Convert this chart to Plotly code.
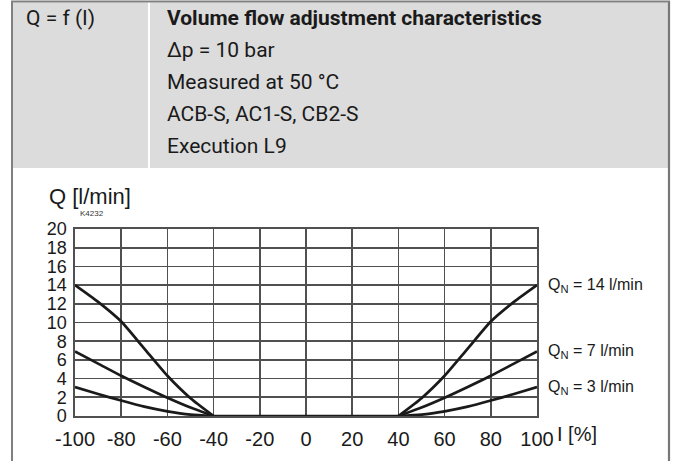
import plotly.graph_objects as go

W, H = 676, 461

# Data
current_left = [-100, -90, -80, -70, -60, -50, -40]
current_right = [40, 50, 60, 70, 80, 90, 100]
q14_left = [14.0, 12.2, 10.1, 7.2, 4.3, 1.9, 0]
q7_left = [6.9, 5.6, 4.3, 3.1, 1.95, 0.9, 0]
q3_left = [3.1, 2.35, 1.65, 1.0, 0.5, 0.15, 0]
q14_right = [0, 1.9, 4.3, 7.2, 10.1, 12.2, 14.0]
q7_right = [0, 0.9, 1.95, 3.1, 4.3, 5.6, 6.9]
q3_right = [0, 0.15, 0.5, 1.0, 1.65, 2.35, 3.1]
series_labels = ["Q<sub>N</sub> = 14 l/min", "Q<sub>N</sub> = 7 l/min", "Q<sub>N</sub> = 3 l/min"]
x_ticks = [-100, -80, -60, -40, -20, 0, 20, 40, 60, 80, 100]
y_ticks = [0, 2, 4, 6, 8, 10, 12, 14, 16, 18, 20]

header_left = "Q = f (I)"
header_title = "Volume flow adjustment characteristics"
header_lines = ["Δp = 10 bar", "Measured at 50 °C", "ACB-S, AC1-S, CB2-S", "Execution L9"]


def px(x):
    return x / W


def py(y):
    return 1 - y / H


fig = go.Figure()
curve_line = dict(color="#1a1a1a", width=2.7, shape="spline", smoothing=0.6)
for ql, qr in ((q14_left, q14_right), (q7_left, q7_right), (q3_left, q3_right)):
    fig.add_trace(go.Scatter(x=current_left, y=ql, mode="lines", line=curve_line,
                             hoverinfo="skip", showlegend=False))
    fig.add_trace(go.Scatter(x=current_right, y=qr, mode="lines", line=curve_line,
                             hoverinfo="skip", showlegend=False))
# flat (zero-flow) section between the two branches
fig.add_trace(go.Scatter(x=[current_left[-1], current_right[0]], y=[q14_left[-1], q14_right[0]],
                         mode="lines", line=dict(color="#1a1a1a", width=2.7),
                         hoverinfo="skip", showlegend=False))

narrow = "Roboto, Liberation Sans Narrow, sans-serif"
arial = "Liberation Sans, Arial, sans-serif"

shapes = [
    dict(type="rect", xref="paper", yref="paper", x0=px(13), x1=px(148), y0=py(168), y1=py(2.5),
         fillcolor="#dcdcdc", line=dict(width=0), layer="below"),
    dict(type="rect", xref="paper", yref="paper", x0=px(150), x1=px(668), y0=py(168), y1=py(2.5),
         fillcolor="#dcdcdc", line=dict(width=0), layer="below"),
    dict(type="line", xref="paper", yref="paper", x0=px(12), x1=px(12), y0=0, y1=py(1),
         line=dict(color="#808080", width=2)),
    dict(type="line", xref="paper", yref="paper", x0=px(669), x1=px(669), y0=0, y1=py(1),
         line=dict(color="#777777", width=2.2)),
    dict(type="line", xref="paper", yref="paper", x0=px(11), x1=px(670), y0=py(1.5), y1=py(1.5),
         line=dict(color="#808080", width=1.8)),
]

annotations = [
    dict(text=header_left, x=px(24), y=py(18), xref="paper", yref="paper", xanchor="left",
         yanchor="middle", showarrow=False, font=dict(family=narrow, size=21, color="#1a1a1a")),
    dict(text="<b>" + header_title + "</b>", x=px(165), y=py(18), xref="paper", yref="paper",
         xanchor="left", yanchor="middle", showarrow=False,
         font=dict(family=narrow, size=21, color="#1a1a1a")),
]
for i, t in enumerate(header_lines):
    annotations.append(dict(text=t, x=px(165), y=py(50 + 32 * i), xref="paper", yref="paper",
                            xanchor="left", yanchor="middle", showarrow=False,
                            font=dict(family=narrow, size=21, color="#1a1a1a")))

annotations += [
    dict(text="Q [l/min]", x=px(47), y=py(197), xref="paper", yref="paper", xanchor="left",
         yanchor="middle", showarrow=False, font=dict(family=arial, size=22, color="#1a1a1a")),
    dict(text="K4232", x=px(78), y=py(213), xref="paper", yref="paper", xanchor="left",
         yanchor="middle", showarrow=False, font=dict(family=arial, size=8, color="#333333")),
    dict(text="I [%]", x=px(555), y=py(434), xref="paper", yref="paper", xanchor="left",
         yanchor="middle", showarrow=False, font=dict(family=arial, size=20, color="#1a1a1a")),
]
for qr, lab in zip((q14_right, q7_right, q3_right), series_labels):
    annotations.append(dict(text=lab, x=current_right[-1], y=qr[-1], xref="x", yref="y",
                            xanchor="left", yanchor="middle", xshift=9, showarrow=False,
                            font=dict(family=arial, size=16, color="#1a1a1a")))

grid_col = "#505050"
fig.update_layout(
    width=W, height=H, margin=dict(l=0, r=0, t=0, b=0, pad=0, autoexpand=False),
    paper_bgcolor="white", plot_bgcolor="white",
    shapes=shapes, annotations=annotations,
    xaxis=dict(domain=[px(75), px(537)], range=[-100, 100], tickvals=x_ticks, automargin=False,
               ticktext=[str(v) for v in x_ticks], showgrid=True, gridcolor=grid_col, gridwidth=1.6,
               showline=True, linecolor=grid_col, linewidth=1.6, mirror=True, zeroline=False,
               ticks="", ticklabelstandoff=4, tickfont=dict(family=arial, size=20, color="#1a1a1a")),
    yaxis=dict(domain=[1 - 416 / H, 1 - 229 / H], range=[0, 20], tickvals=y_ticks, automargin=False,
               ticktext=[str(v) for v in y_ticks], showgrid=True, gridcolor=grid_col, gridwidth=1.6,
               showline=True, linecolor=grid_col, linewidth=1.6, mirror=True, zeroline=False,
               ticks="", ticklabelstandoff=3, tickfont=dict(family=arial, size=18, color="#1a1a1a")),
    font=dict(family=arial),
)

fig.write_html("out.html", config={"displayModeBar": False, "staticPlot": True},
               post_script="document.body.style.margin='0';")
